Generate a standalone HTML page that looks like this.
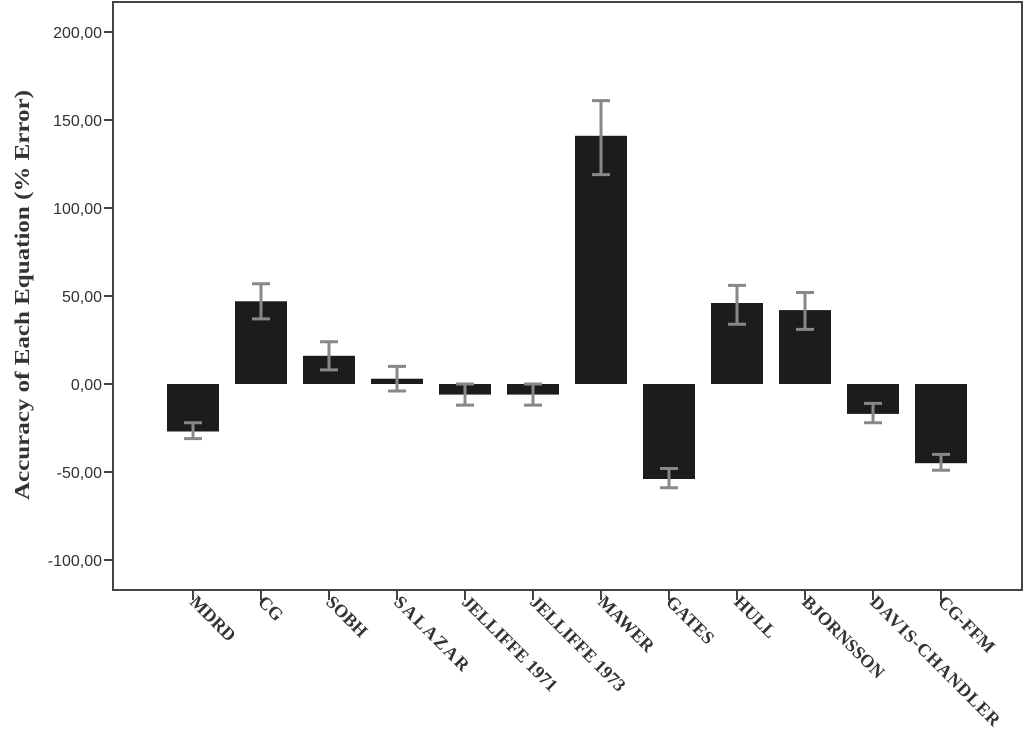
<!DOCTYPE html>
<html><head><meta charset="utf-8"><style>html,body{margin:0;padding:0;background:#fff}</style></head>
<body>
<svg width="1024" height="746" viewBox="0 0 1024 746" xmlns="http://www.w3.org/2000/svg">
<rect x="113" y="2" width="909" height="588" fill="#fff" stroke="#444" stroke-width="2"/>
<g font-family="Liberation Sans, sans-serif" font-size="16" fill="#333" text-anchor="end">
<text x="102" y="38">200,00</text>
<text x="102" y="126">150,00</text>
<text x="102" y="214">100,00</text>
<text x="102" y="302">50,00</text>
<text x="102" y="390">0,00</text>
<text x="102" y="478">-50,00</text>
<text x="102" y="566">-100,00</text>
</g>
<g stroke="#444" stroke-width="2">
<line x1="104" y1="32" x2="113" y2="32"/><line x1="104" y1="120" x2="113" y2="120"/>
<line x1="104" y1="208" x2="113" y2="208"/><line x1="104" y1="296" x2="113" y2="296"/>
<line x1="104" y1="384" x2="113" y2="384"/><line x1="104" y1="472" x2="113" y2="472"/>
<line x1="104" y1="560" x2="113" y2="560"/>
</g>
<text transform="translate(29,295) rotate(-90)" text-anchor="middle" font-family="Liberation Serif, serif" font-weight="bold" font-size="21" textLength="410" lengthAdjust="spacingAndGlyphs" fill="#333">Accuracy of Each Equation (% Error)</text>
<g fill="#1e1b1c">
<rect x="167" y="384" width="52" height="47.5"/>
<rect x="235" y="301.3" width="52" height="82.7"/>
<rect x="303" y="355.8" width="52" height="28.2"/>
<rect x="371" y="378.7" width="52" height="5.3"/>
<rect x="439" y="384" width="52" height="10.6"/>
<rect x="507" y="384" width="52" height="10.6"/>
<rect x="575" y="135.8" width="52" height="248.2"/>
<rect x="643" y="384" width="52" height="95"/>
<rect x="711" y="303" width="52" height="81"/>
<rect x="779" y="310.1" width="52" height="73.9"/>
<rect x="847" y="384" width="52" height="29.9"/>
<rect x="915" y="384" width="52" height="79.2"/>
</g>
<g stroke="#888" stroke-width="3" fill="none">
<path d="M193 438.6V422.7M184 438.6h18M184 422.7h18"/>
<path d="M261 318.9V283.7M252 318.9h18M252 283.7h18"/>
<path d="M329 369.9V341.8M320 369.9h18M320 341.8h18"/>
<path d="M397 391V366.4M388 391h18M388 366.4h18"/>
<path d="M465 405.1V384M456 405.1h18M456 384h18"/>
<path d="M533 405.1V384M524 405.1h18M524 384h18"/>
<path d="M601 174.6V100.6M592 174.6h18M592 100.6h18"/>
<path d="M669 487.8V468.5M660 487.8h18M660 468.5h18"/>
<path d="M737 324.2V285.4M728 324.2h18M728 285.4h18"/>
<path d="M805 329.4V292.5M796 329.4h18M796 292.5h18"/>
<path d="M873 422.7V403.4M864 422.7h18M864 403.4h18"/>
<path d="M941 470.2V454.4M932 470.2h18M932 454.4h18"/>
</g>
<g stroke="#444" stroke-width="2">
<path d="M193 590v10M261 590v10M329 590v10M397 590v10M465 590v10M533 590v10M601 590v10M669 590v10M737 590v10M805 590v10M873 590v10M941 590v10"/>
</g>
<g font-family="Liberation Serif, serif" font-weight="bold" font-size="18" fill="#333">
<text transform="translate(189,603) rotate(45)">MDRD</text>
<text transform="translate(257,603) rotate(45)">CG</text>
<text transform="translate(325,603) rotate(45)">SOBH</text>
<text transform="translate(393,603) rotate(45)" letter-spacing="2">SALAZAR</text>
<text transform="translate(461,603) rotate(45)">JELLIFFE 1971</text>
<text transform="translate(529,603) rotate(45)">JELLIFFE 1973</text>
<text transform="translate(597,603) rotate(45)">MAWER</text>
<text transform="translate(665,603) rotate(45)">GATES</text>
<text transform="translate(733,603) rotate(45)">HULL</text>
<text transform="translate(801,603) rotate(45)">BJORNSSON</text>
<text transform="translate(869,603) rotate(45)" letter-spacing="1">DAVIS-CHANDLER</text>
<text transform="translate(937,603) rotate(45)">CG-FFM</text>
</g>
</svg>
</body></html>
